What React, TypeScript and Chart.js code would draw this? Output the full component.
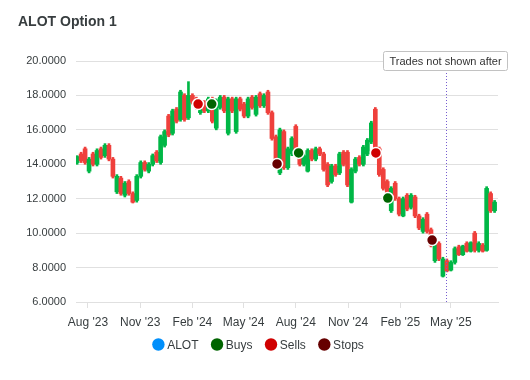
import React, { useEffect, useRef } from 'react';
import { Chart, registerables } from 'chart.js';

Chart.register(...registerables);

const TITLE = 'ALOT Option 1';
const FONT = '"Liberation Sans", Arial, Helvetica, sans-serif';
const TEXT_COLOR = '#373d3f';
const UP_COLOR = '#00B746';
const DOWN_COLOR = '#EF403C';

// x values are days since 2023-07-01; one candle per week
const FIRST_DAY = 12;
const STEP_DAYS = 7;

const opens = [
  14.1, 14.6, 14.9, 13.6, 14.6, 14.0, 14.9, 14.5, 15.1, 14.3,
  12.4, 13.2, 12.2, 13.0, 12.3, 11.9, 13.3, 14.1, 13.6, 14.0,
  14.7, 14.1, 15.1, 16.8, 15.8, 17.2, 16.6, 18.0, 16.7, 18.0,
  17.8, 17.0, 17.6, 17.1, 17.8, 16.1, 17.3, 17.9, 15.8, 17.8,
  15.9, 17.8, 17.5, 16.8, 17.9, 16.9, 18.1, 17.4, 18.2, 17.0,
  15.6, 13.5, 15.9, 13.8, 14.6, 16.2, 14.7, 14.0, 13.6, 14.8,
  14.3, 14.9, 14.6, 14.0, 13.0, 13.9, 13.5, 14.7, 14.7, 11.8,
  13.6, 14.4, 14.0, 14.6, 15.3, 17.2, 14.9, 13.7, 13.0, 11.3,
  12.9, 12.0, 11.0, 12.2, 11.5, 12.1, 11.0, 10.1, 11.1, 10.2,
  8.4, 9.4, 7.5, 8.4, 7.85, 8.3, 9.2, 8.75, 9.4, 8.95,
  10.0, 9.0, 9.3, 9.0, 12.3, 11.3,
];
const highs = [
  14.5, 14.7, 15.0, 14.4, 14.7, 14.9, 15.0, 15.2, 15.2, 14.4,
  13.4, 13.3, 13.0, 13.1, 12.4, 13.4, 14.2, 14.2, 14.1, 14.6,
  14.8, 15.7, 16.0, 16.9, 17.2, 17.3, 18.3, 18.1, 18.8, 18.1,
  17.9, 17.6, 17.7, 17.9, 17.9, 17.8, 18.0, 18.0, 17.9, 17.9,
  17.9, 17.9, 17.6, 17.9, 18.0, 18.0, 18.2, 18.1, 18.3, 17.1,
  15.7, 16.1, 16.0, 15.0, 15.6, 16.3, 14.8, 14.6, 14.9, 14.9,
  15.0, 15.0, 14.7, 14.1, 14.0, 14.0, 14.7, 14.8, 14.8, 13.8,
  14.4, 14.5, 15.1, 15.5, 16.5, 17.3, 15.0, 13.8, 13.1, 12.7,
  13.0, 12.1, 12.1, 12.3, 12.3, 12.2, 11.1, 10.9, 11.2, 10.3,
  9.5, 9.5, 8.6, 8.5, 8.4, 9.2, 9.3, 9.3, 9.5, 9.5,
  10.1, 9.5, 9.4, 12.7, 12.4, 11.9,
];
const lows = [
  14.0, 14.1, 14.0, 13.5, 13.9, 13.9, 14.3, 14.4, 14.2, 13.2,
  12.3, 12.2, 12.1, 12.2, 11.75, 11.8, 13.2, 13.6, 13.5, 13.9,
  14.1, 14.0, 15.0, 15.6, 15.7, 16.4, 16.5, 16.5, 16.6, 17.5,
  17.2, 16.9, 17.0, 17.0, 16.4, 16.0, 17.2, 17.0, 15.7, 17.0,
  15.8, 17.1, 16.7, 16.7, 17.2, 16.8, 17.3, 17.3, 16.9, 15.4,
  13.8, 13.4, 13.7, 13.7, 14.5, 14.6, 13.9, 13.9, 13.55, 14.2,
  14.2, 14.5, 13.6, 12.7, 12.9, 13.3, 13.4, 13.9, 12.7, 11.75,
  13.5, 13.9, 13.9, 14.5, 15.2, 14.7, 13.3, 12.5, 12.0, 11.2,
  11.9, 11.0, 10.95, 11.3, 11.4, 10.9, 10.2, 10.0, 10.0, 9.2,
  8.3, 8.4, 7.45, 7.75, 7.8, 8.2, 8.7, 8.7, 8.9, 8.9,
  8.9, 8.9, 8.9, 8.95, 11.2, 11.2,
];
const closes = [
  14.45, 14.2, 14.1, 14.3, 14.0, 14.8, 14.4, 15.1, 14.3, 13.3,
  13.3, 12.3, 12.9, 12.3, 11.8, 13.3, 14.1, 13.7, 14.0, 14.5,
  14.2, 15.6, 15.9, 15.7, 17.1, 16.5, 18.2, 16.6, 18.0, 17.6,
  17.3, 17.5, 17.1, 17.8, 16.5, 17.7, 17.9, 17.1, 17.8, 17.1,
  17.8, 17.2, 16.8, 17.8, 17.3, 17.9, 17.4, 18.0, 17.0, 15.5,
  13.9, 16.0, 13.8, 14.9, 15.5, 14.7, 14.0, 14.5, 14.8, 14.3,
  14.9, 14.6, 13.7, 12.8, 13.9, 13.4, 14.6, 14.0, 12.8, 13.7,
  14.3, 14.0, 15.0, 15.4, 16.4, 14.8, 13.4, 12.6, 12.1, 12.6,
  12.0, 11.1, 12.0, 11.4, 12.2, 11.0, 10.3, 10.8, 10.1, 9.3,
  9.4, 8.5, 8.5, 7.8, 8.3, 9.1, 8.75, 9.25, 8.95, 9.45,
  9.0, 9.4, 8.95, 12.6, 11.3, 11.8,
];

const buyDays = [249, 402, 559];
const buyPrices = [17.5, 14.66, 12.04];
const sellDays = [225, 538];
const sellPrices = [17.5, 14.66];
const stopDays = [364, 637];
const stopPrices = [14.02, 9.6];

const tickDays = [31, 123, 215, 305, 397, 489, 581, 670];
const tickLabels = ["Aug '23", "Nov '23", "Feb '24", "May '24", "Aug '24", "Nov '24", "Feb '25", "May '25"];

const annotationDay = 661;
const annotationText = 'Trades not shown after';

const legendNames = ['ALOT', 'Buys', 'Sells', 'Stops'];
const legendColors = ['#008FFB', '#006400', '#D00000', '#660000'];

const overlayPlugin = {
  id: 'overlay',
  afterDatasetsDraw(chart: any) {
    const ctx = chart.ctx;
    const area = chart.chartArea;
    const xs = chart.scales.x;
    ctx.save();
    const lx = Math.round(xs.getPixelForValue(annotationDay)) + 0.5;
    ctx.strokeStyle = '#775DD0';
    ctx.lineWidth = 1;
    ctx.setLineDash([1, 2]);
    ctx.beginPath();
    ctx.moveTo(lx, area.top);
    ctx.lineTo(lx, area.bottom);
    ctx.stroke();
    ctx.setLineDash([]);
    ctx.font = '11px ' + FONT;
    const tw = ctx.measureText(annotationText).width;
    const bw = Math.round(tw + 12);
    const bx = Math.round(lx - bw / 2) - 1.5;
    const by = 51.5;
    const bh = 19;
    ctx.fillStyle = '#ffffff';
    ctx.strokeStyle = '#c2c2c2';
    ctx.beginPath();
    if (ctx.roundRect) ctx.roundRect(bx, by, bw, bh, 2); else ctx.rect(bx, by, bw, bh);
    ctx.fill();
    ctx.stroke();
    ctx.fillStyle = '#333333';
    ctx.textAlign = 'center';
    ctx.textBaseline = 'alphabetic';
    ctx.fillText(annotationText, bx + bw / 2, 65);
    ctx.restore();
  },
  afterDraw(chart: any) {
    const ctx = chart.ctx;
    ctx.save();
    ctx.font = 'bold 14px ' + FONT;
    ctx.fillStyle = TEXT_COLOR;
    ctx.textAlign = 'left';
    ctx.textBaseline = 'alphabetic';
    ctx.fillText(TITLE, 18, 25.5);
    ctx.font = '12px ' + FONT;
    const r = 6.2;
    const textGap = 2.6;
    const itemGap = 12.3;
    const widths = legendNames.map((n) => ctx.measureText(n).width);
    let total = 0;
    widths.forEach((w, i) => {
      total += 2 * r + textGap + w + (i < widths.length - 1 ? itemGap : 0);
    });
    let x = 258 - total / 2;
    const cy = 344.5;
    legendNames.forEach((n, i) => {
      ctx.fillStyle = legendColors[i];
      ctx.beginPath();
      ctx.arc(x + r, cy, r, 0, Math.PI * 2);
      ctx.fill();
      ctx.fillStyle = TEXT_COLOR;
      ctx.fillText(n, x + 2 * r + textGap, 349);
      x += 2 * r + textGap + widths[i] + itemGap;
    });
    ctx.restore();
  },
};

export default function App() {
  const canvasRef = useRef<HTMLCanvasElement | null>(null);

  useEffect(() => {
    document.body.style.margin = '0';
    const canvas = canvasRef.current;
    if (!canvas) return;
    Chart.defaults.font.family = FONT;

    const days = opens.map((_, i) => FIRST_DAY + STEP_DAYS * i);
    const colors = opens.map((o, i) => (closes[i] >= o ? UP_COLOR : DOWN_COLOR));
    const wickData = days.map((d, i) => ({ x: d, y: [lows[i], highs[i]] }));
    const bodyData = days.map((d, i) => {
      const lo = Math.min(opens[i], closes[i]);
      const hi = Math.max(opens[i], closes[i]);
      return { x: d, y: [lo, hi === lo ? lo + 0.02 : hi] };
    });
    const markerSet = (label: string, ds: number[], ps: number[], color: string) => ({
      type: 'scatter' as const,
      label,
      data: ds.map((d, i) => ({ x: d, y: ps[i] })),
      backgroundColor: color,
      borderColor: '#ffffff',
      borderWidth: 1.5,
      pointRadius: 5.5,
      order: 0,
    });

    const chart = new Chart(canvas, {
      type: 'bar',
      data: {
        datasets: [
          markerSet('Buys', buyDays, buyPrices, legendColors[1]),
          markerSet('Sells', sellDays, sellPrices, legendColors[2]),
          markerSet('Stops', stopDays, stopPrices, legendColors[3]),
          {
            type: 'bar',
            label: 'ALOT body',
            data: bodyData as any,
            backgroundColor: colors,
            borderWidth: 0,
            barThickness: 4,
            grouped: false,
            order: 1,
          } as any,
          {
            type: 'bar',
            label: 'ALOT wick',
            data: wickData as any,
            backgroundColor: colors,
            borderWidth: 0,
            barThickness: 2,
            grouped: false,
            order: 2,
          } as any,
        ],
      },
      options: {
        responsive: false,
        animation: false,
        events: [],
        layout: { padding: { top: 61, right: 32, bottom: 51, left: 0 } },
        plugins: {
          legend: { display: false },
          tooltip: { enabled: false },
          title: { display: false },
        },
        scales: {
          x: {
            type: 'linear',
            min: 10,
            max: 753,
            offset: false,
            afterBuildTicks: (s: any) => {
              s.ticks = tickDays.map((v) => ({ value: v }));
            },
            afterFit: (s: any) => {
              s.height = 27;
            },
            grid: {
              drawOnChartArea: false,
              drawTicks: true,
              tickLength: 6,
              color: '#e0e0e0',
              offset: false,
            },
            border: { display: true, color: '#e0e0e0' },
            ticks: {
              autoSkip: false,
              maxRotation: 0,
              padding: 7,
              color: TEXT_COLOR,
              font: { size: 12, family: FONT },
              callback: (_v: any, i: number) => tickLabels[i],
            },
          },
          y: {
            min: 6,
            max: 20,
            afterFit: (s: any) => {
              s.width = 76;
            },
            grid: { color: '#e0e0e0', drawTicks: false },
            border: { display: false },
            ticks: {
              stepSize: 2,
              padding: 10,
              color: TEXT_COLOR,
              font: { size: 11, family: FONT },
              callback: (v: any) => Number(v).toFixed(4),
            },
          },
        },
      } as any,
      plugins: [overlayPlugin],
    });
    return () => chart.destroy();
  }, []);

  return (
    <div style={{ width: 530, height: 380 }}>
      <canvas ref={canvasRef} width={530} height={380} style={{ display: 'block' }} />
    </div>
  );
}
